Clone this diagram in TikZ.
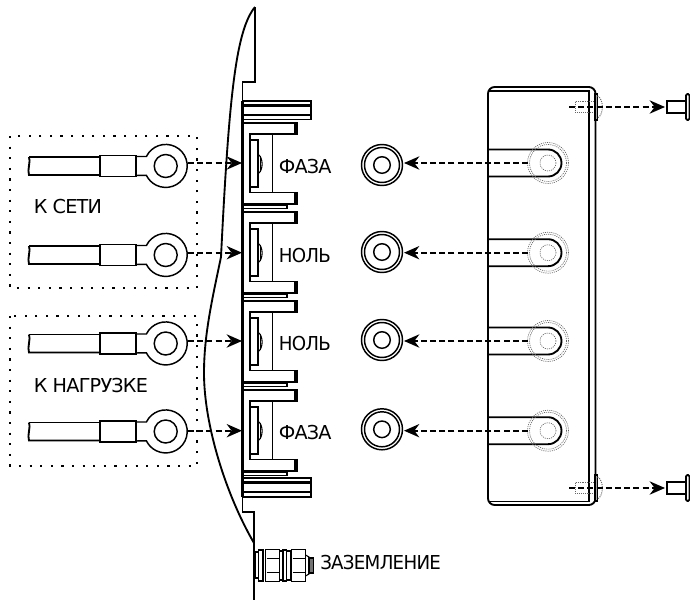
\documentclass[tikz,border=0pt]{standalone}
\usepackage{fontspec}
\setmainfont[LetterSpace=-4]{DejaVu Sans}
\usepackage{tikz}
\usetikzlibrary{arrows.meta}

\tikzset{
    thinline/.style={line width=0.8pt},
    ringline/.style={line width=1.1pt},
    mainline/.style={line width=1.4pt},
    wallline/.style={line width=2.2pt},
    dotbox/.style={line width=1.6pt, dash pattern=on 1.6pt off 6.35pt},
    hidden/.style={line width=0.5pt, black!60, dash pattern=on 0.8pt off 0.8pt},
    toward/.style={line width=1.3pt, dash pattern=on 4.5pt off 2.4pt, -{Stealth[length=11.5pt,width=10pt]}},
    caption/.style={inner sep=0pt, anchor=west, font=\fontsize{14.4}{16}\selectfont},
    tight/.style={caption, xscale=.95},
    lug/.pic={
        \draw[mainline] (29,9) .. controls (31,5) and (27,-4) .. (29,-9) -- (100,-9);
        \draw[mainline] (29,9) -- (100,9);
        \draw[mainline] (100,-10.5) rectangle (136,10.5);
        \draw[ringline] (136,9.5) -- (146.4,9.5) arc[start angle=154, end angle=-154, radius=21.5] -- (136,-9.5);
        \draw[ringline] (165.7,0) circle[radius=11.5];
    },
    clamp/.pic={
        \draw[mainline] (243,0) -- (297,0);
        \draw[line width=2.8pt] (296,0.7) -- (296,-11.7);
        \draw[mainline] (296,-11) -- (250,-11) -- (250,-69.5) -- (296,-69.5);
        \draw[line width=2.8pt] (296,-68.8) -- (296,-81.7);
        \draw[mainline] (243,-81) -- (297,-81);
        \draw[ringline] (272.5,-11) -- (272.5,-69.5);
        \draw[mainline] (250,-17) rectangle (258,-64);
        \draw[thinline] (258,-31) .. controls (263.5,-35) and (263.5,-47) .. (258,-51);
        \draw[thinline] (260.5,-33) -- (260.5,-49);
        \draw[thinline] (243,-85.5) rectangle (287,-82);
    },
    washer/.pic={
        \draw[ringline] (0,0) circle[radius=20.5];
        \draw[ringline] (0,0) circle[radius=17.5];
        \draw[ringline] (0,0) circle[radius=8.3];
    },
    slot/.pic={
        \draw[mainline] (488,13.5) -- (548,13.5) arc[start angle=90, end angle=-90, radius=13.5] -- (488,-13.5);
        \draw[hidden] (548,0) circle[radius=20.5];
        \draw[hidden] (548,0) circle[radius=18.5];
        \draw[hidden] (548,0) circle[radius=8];
    },
    screw/.pic={
        \draw[hidden,line width=.7pt] (575,5.5) rectangle (596,-5.5);
        \draw[thinline,fill=black!35] (595,13) rectangle (597.5,-13);
        \draw[hidden,line width=.7pt] (597.5,11) .. controls (604,8) and (604,-8) .. (597.5,-11);
        \draw[mainline] (667,6.2) rectangle (686,-6.2);
        \draw[mainline,rounded corners=1pt,fill=white] (686,13) rectangle (689.5,-13);
    },
    nut/.pic={
        \draw[mainline] (0,16) rectangle (14,-16);
        \draw[ringline] (1,7) -- (13,7) (1,-7) -- (13,-7);
    }
}

\begin{document}
\begin{tikzpicture}[x=0.75pt,y=0.75pt]
    \useasboundingbox (0,0) rectangle (690,-600);

    % panel edge
    \draw[mainline] (255,-7) .. controls (236,-30) and (229,-95) .. (221,-257)
        .. controls (212,-300) and (204,-335) .. (204,-373)
        .. controls (204,-425) and (226,-495) .. (254,-543);
    \draw[mainline] (255,-7) -- (255,-82) -- (242.5,-82) -- (242.5,-101);
    \draw[wallline] (242.5,-101) -- (242.5,-497);
    \draw[mainline] (242.5,-497) -- (242.5,-512) -- (254,-512) -- (254,-600);

    % ribs
    \draw[mainline] (243,-101) rectangle (311,-119.5);
    \draw[wallline] (243,-105.5) -- (311,-105.5) (243,-115) -- (311,-115);
    \draw[mainline] (243,-478) rectangle (311,-497);
    \draw[wallline] (243,-482.5) -- (311,-482.5) (243,-492) -- (311,-492);

    % wire groups
    \draw[dotbox] (10,-136) rectangle (197,-288);
    \draw[dotbox] (10,-316) rectangle (197,-466);

    \foreach \i/\ylug/\yclamp in {1/-166/-123, 2/-255/-212, 3/-343.5/-301, 4/-431.5/-390} {
        \pic at (0,\ylug) {lug};
        \pic at (0,\yclamp) {clamp};
    }
    \foreach \i/\yarr/\ywash in {1/-163/-165, 2/-252.7/-252, 3/-341/-340, 4/-430.7/-429.3} {
        \coordinate (lugend\i) at (188,\yarr);
        \coordinate (wall\i) at (242,\yarr);
        \coordinate (slotend\i) at (528,\yarr);
        \coordinate (washend\i) at (404,\yarr);
        \pic at (382,\ywash) {washer};
        \pic at (0,\yarr) {slot};
        \draw[toward] (lugend\i) -- (wall\i);
        \draw[toward] (slotend\i) -- (washend\i);
    }

    % cover
    \draw[mainline,rounded corners=5pt] (488,-87) -- (595.5,-87) -- (595.5,-505) -- (488,-505) -- cycle;
    \draw[mainline] (488,-91) -- (589,-91) -- (589,-501.5) -- (488,-501.5);

    % cover screws
    \foreach \i/\yscr in {1/-107, 2/-488} {
        \coordinate (holeend\i) at (569,\yscr);
        \coordinate (screwend\i) at (665,\yscr);
        \pic at (0,\yscr) {screw};
        \draw[toward] (holeend\i) -- (screwend\i);
    }

    % earth bolt
    \draw[mainline] (255.5,-552) rectangle (258.5,-578);
    \draw[mainline] (258.5,-550) rectangle (263,-581);
    \pic at (265.5,-565.5) {nut};
    \draw[thinline] (279.5,-551) rectangle (283,-580);
    \draw[mainline] (283,-550) rectangle (286.5,-581);
    \draw[thinline] (286.5,-551) rectangle (290.5,-580);
    \pic at (291.5,-565.5) {nut};
    \draw[thinline] (305.5,-555) -- (309,-557) -- (309,-574) -- (305.5,-576);
    \draw[thinline,fill=black!55] (309,-558) rectangle (313.5,-573);

    % labels
    \node[caption] (phasea) at (278.5,-166.5) {ФАЗА};
    \node[tight] (zeroa) at (278.5,-255.5) {НОЛЬ};
    \node[tight] (zerob) at (278.5,-344) {НОЛЬ};
    \node[caption] (phaseb) at (278.5,-432.5) {ФАЗА};
    \node[caption] (mains) at (33.5,-207) {К СЕТИ};
    \node[caption] (load) at (33.5,-386) {К НАГРУЗКЕ};
    \node[tight] (earth) at (320,-563) {ЗАЗЕМЛЕНИЕ};
\end{tikzpicture}
\end{document}
